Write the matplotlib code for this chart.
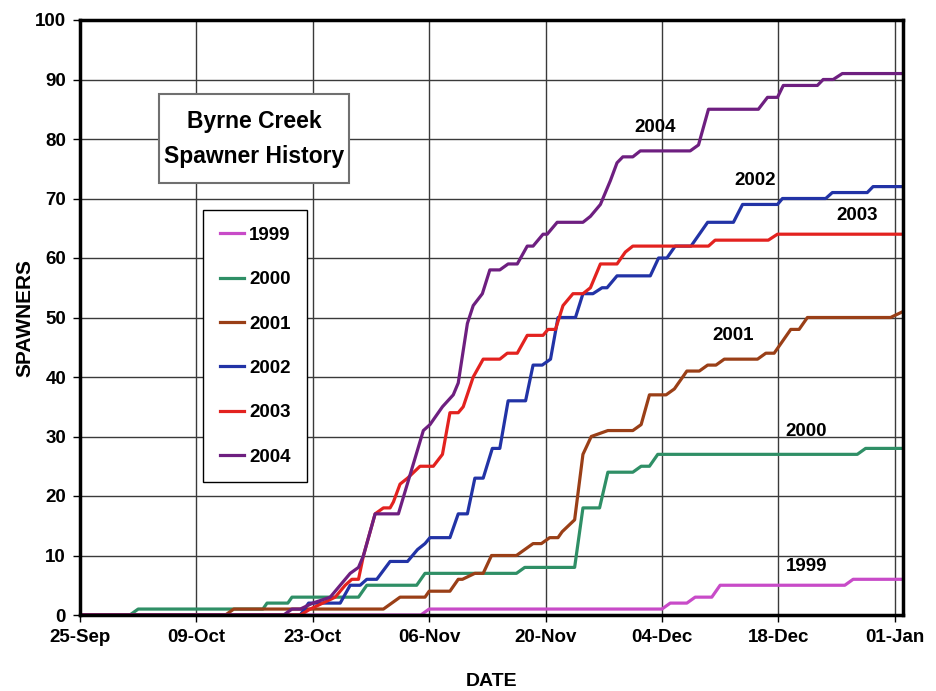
import matplotlib
matplotlib.use("Agg")
import matplotlib.pyplot as plt
from matplotlib import font_manager
from matplotlib.patches import Rectangle

# days after 25-Sep
days_1999 = [0, 41, 42, 70, 71, 73, 74, 76, 77, 92, 93, 99]
vals_1999 = [0, 0, 1, 1, 2, 2, 3, 3, 5, 5, 6, 6]

days_2000 = [0, 6, 7, 22, 22.5, 25, 25.5, 33.5, 34.5, 40.5, 41.5, 52.5, 53.5, 59.5, 60.5,
             62.5, 63.5, 66.5, 67.5, 68.5, 69.5, 93.5, 94.5, 99]
vals_2000 = [0, 0, 1, 1, 2, 2, 3, 3, 5, 5, 7, 7, 8, 8, 18,
             18, 24, 24, 25, 25, 27, 27, 28, 28]

days_2001 = [0, 17.5, 18.5, 36.5, 38.5, 41.5, 42, 44.5, 45.5, 46, 47.5, 48.5, 49.5, 52.5,
             53.5, 54.5, 55.5, 56.5, 57.5, 58, 59.5, 60.5, 61.5, 63.5, 66.5, 67.5, 68.5,
             70.5, 71.5, 73, 74.5, 75.5, 76.5, 77.5, 81.5, 82.5, 83.5, 85.5, 86.5, 87.5,
             97.5, 99]
vals_2001 = [0, 0, 1, 1, 3, 3, 4, 4, 6, 6, 7, 7, 10, 10,
             11, 12, 12, 13, 13, 14, 16, 27, 30, 31, 31, 32, 37,
             37, 38, 41, 41, 42, 42, 43, 43, 44, 44, 48, 48, 50,
             50, 51]

days_2002 = [0, 26.5, 27.5, 31.3, 32.5, 33.7, 34.5, 35.7, 37.3, 39.4, 40.6, 41.5, 42.1,
             44.5, 45.5, 46.6, 47.5, 48.5, 49.6, 50.5, 51.5, 53.6, 54.5, 55.6, 56.6, 57.5,
             59.6, 60.5, 61.7, 62.8, 63.4, 64.6, 68.6, 69.6, 70.6, 71.6, 73.5, 75.5, 78.6,
             79.7, 83.9, 84.5, 89.7, 90.5, 94.7, 95.4, 99]
vals_2002 = [0, 0, 2, 2, 5, 5, 6, 6, 9, 9, 11, 12, 13,
             13, 17, 17, 23, 23, 28, 28, 36, 36, 42, 42, 43, 50,
             50, 54, 54, 55, 55, 57, 57, 60, 60, 62, 62, 66, 66,
             69, 69, 70, 70, 71, 71, 72, 72]

days_2003 = [0, 26.5, 27.7, 29.2, 30.7, 31.9, 32.7, 33.5, 34.1, 35.5, 36.5, 37.3, 37.7,
             38.5, 39.4, 40.9, 42.5, 43.6, 44.5, 45.5, 46.1, 47.3, 48.5, 50.5, 51.4, 52.6,
             53.8, 55.7, 56.3, 57.2, 58.1, 59.3, 60.5, 61.4, 62.6, 64.6, 65.6, 66.5, 75.6,
             76.4, 82.8, 83.9, 99]
vals_2003 = [0, 0, 1, 2, 3, 5, 6, 6, 10, 17, 18, 18, 19,
             22, 23, 25, 25, 27, 34, 34, 35, 40, 43, 43, 44, 44,
             47, 47, 48, 48, 52, 54, 54, 55, 59, 59, 61, 62, 62,
             63, 63, 64, 64]

days_2004 = [0, 24.5, 25.5, 26.5, 28, 30.1, 31.3, 32.5, 33.5, 34.1, 35.5, 38.3, 41.3, 42.1,
             43.6, 44.9, 45.5, 46.6, 47.3, 48.4, 49.3, 50.5, 51.5, 52.6, 53.8, 54.5, 55.7,
             56.2, 57.4, 60.5, 61.4, 62.6, 63.8, 64.6, 65.3, 66.5, 67.4, 73.4, 74.4, 75.6,
             81.6, 82.7, 83.9, 84.6, 88.7, 89.4, 90.6, 91.7, 99]
vals_2004 = [0, 0, 1, 1, 2, 3, 5, 7, 8, 10, 17, 17, 31, 32,
             35, 37, 39, 49, 52, 54, 58, 58, 59, 59, 62, 62, 64,
             64, 66, 66, 67, 69, 73, 76, 77, 77, 78, 78, 79, 85,
             85, 87, 87, 89, 89, 90, 90, 91, 91]

years = ["1999", "2000", "2001", "2002", "2003", "2004"]
colors = ["#c84bc8", "#2f8f66", "#9a3f17", "#2233a6", "#e3221f", "#6e1f80"]

tick_days = [0, 14, 28, 42, 56, 70, 84, 98]
tick_labels = ["25-Sep", "09-Oct", "23-Oct", "06-Nov", "20-Nov", "04-Dec", "18-Dec", "01-Jan"]

# where the year labels sit next to each curve
label_pos = {"2004": (69.2, 82.0), "2002": (81.2, 73.1), "2003": (93.5, 67.2),
             "2001": (78.6, 46.9), "2000": (87.4, 30.8), "1999": (87.4, 8.1)}

installed = {f.name for f in font_manager.fontManager.ttflist}
has_narrow = "Liberation Sans Narrow" in installed
narrow = "Liberation Sans Narrow" if has_narrow else "Liberation Sans"
small = 14 if has_narrow else 13.5
wide = "Liberation Sans" if "Liberation Sans" in installed else "DejaVu Sans"

fig = plt.figure(figsize=(9.37, 6.91), dpi=100)
ax = fig.add_axes([80 / 937, 76 / 691, 823 / 937, 595 / 691])

series = [(days_1999, vals_1999), (days_2000, vals_2000), (days_2001, vals_2001),
          (days_2002, vals_2002), (days_2003, vals_2003), (days_2004, vals_2004)]
for (d, v), yr, c in zip(series, years, colors):
    ax.plot(d, v, color=c, lw=2.3, label=yr, solid_joinstyle="round")

for yr, (x, y) in label_pos.items():
    ax.text(x, y, yr, fontsize=small, fontweight="bold", family=narrow, ha="center", va="center")

ax.set_xlim(0, 99)
ax.set_ylim(0, 100)
ax.set_xticks(tick_days)
ax.set_xticklabels(tick_labels)
ax.set_yticks(range(0, 101, 10))
ax.grid(True, color="#3a3a3a", lw=1.0)
ax.set_axisbelow(True)
ax.tick_params(direction="out", length=5, width=1, pad=5, labelsize=small)
for lab in ax.get_xticklabels() + ax.get_yticklabels():
    lab.set_family(narrow)
    lab.set_fontweight("bold")
for sp in ax.spines.values():
    sp.set_linewidth(2.5)
    sp.set_color("black")

fig.text(25 / 937, 1 - 318 / 691, "SPAWNERS", rotation=90, ha="center", va="center",
         fontsize=15, fontweight="bold", family=wide)
fig.text(492 / 937, 1 - 681 / 691, "DATE", ha="center", va="center",
         fontsize=14, fontweight="bold", family=wide)

# title box
ax.add_patch(Rectangle((0.096, 0.726), 0.231, 0.150, transform=ax.transAxes,
                       facecolor="white", edgecolor="#707070", lw=1.5, zorder=5))
ax.text(0.2115, 0.800, "Byrne Creek\nSpawner History", transform=ax.transAxes,
        ha="center", va="center", fontsize=16.5, fontweight="bold", family=wide,
        linespacing=1.65, zorder=6)

leg = ax.legend(loc="upper left", bbox_to_anchor=(0.1495, 0.6807), frameon=True,
                fancybox=False, edgecolor="black", framealpha=1,
                prop={"family": narrow, "weight": "bold", "size": small},
                handlelength=1.3, handletextpad=0.25, labelspacing=1.45, borderpad=0.9,
                borderaxespad=0)
leg.get_frame().set_linewidth(1.0)
leg.set_zorder(6)

fig.savefig("out.png", dpi=100, facecolor="white")
